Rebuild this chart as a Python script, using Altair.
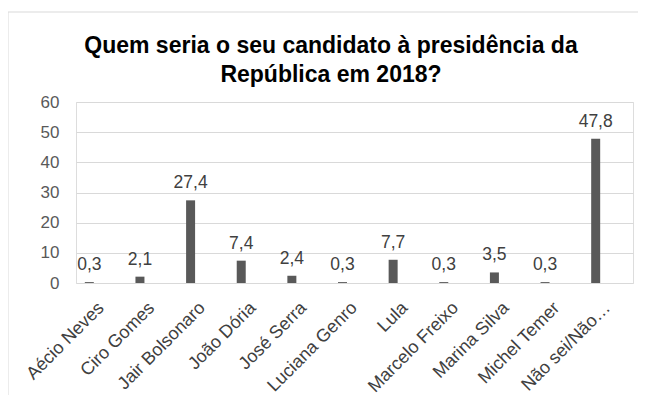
import altair as alt
import pandas as pd

categories = ["Aécio Neves", "Ciro Gomes", "Jair Bolsonaro", "João Dória", "José Serra",
              "Luciana Genro", "Lula", "Marcelo Freixo", "Marina Silva", "Michel Temer",
              "Não sei/Não…"]
values = [0.3, 2.1, 27.4, 7.4, 2.4, 0.3, 7.7, 0.3, 3.5, 0.3, 47.8]
y_ticks = [0, 10, 20, 30, 40, 50, 60]
title_lines = ["Quem seria o seu candidato à presidência da", "República em 2018?"]

df = pd.DataFrame({
    "cat": categories,
    "val": values,
    "lbl": [f"{v:.1f}".replace(".", ",") for v in values],
})

FONT = "Liberation Sans"

x_enc = alt.X("cat:N", sort=categories, title=None,
              scale=alt.Scale(paddingInner=0, paddingOuter=0),
              axis=alt.Axis(labelAngle=-45, labelAlign="right", labelBaseline="middle",
                            labelPadding=22, ticks=False, domain=False,
                            labelFont=FONT, labelFontSize=18, labelColor="#404040",
                            labelLimit=200))
y_enc = alt.Y("val:Q", title=None,
              scale=alt.Scale(domain=[0, 60], nice=False),
              axis=alt.Axis(values=y_ticks, ticks=False, domain=False,
                            labelFont=FONT, labelFontSize=17, labelColor="#595959",
                            labelPadding=17, gridColor="#d9d9d9", gridWidth=1))

base = alt.Chart(df)

bars = base.mark_bar(color="#595959", width=9, xOffset=-12).encode(x=x_enc, y=y_enc)
texts = base.mark_text(font=FONT, fontSize=17.5, color="#404040", baseline="alphabetic",
                       dy=-12, xOffset=-12).encode(x=x_enc, y=y_enc, text="lbl:N")

border = alt.Chart(pd.DataFrame({"k": [0]})).mark_rect(
    fill=None, stroke="#d9d9d9", strokeWidth=1
).encode(x=alt.value(-68), x2=alt.value(700), y=alt.value(-90), y2=alt.value(400))

title = alt.Chart(pd.DataFrame({"t": ["\n".join(title_lines)]})).mark_text(
    font=FONT, fontSize=23, fontWeight="bold", color="#000000", align="center",
    baseline="alphabetic", lineBreak="\n", lineHeight=29.5
).encode(x=alt.value(255), y=alt.value(-49.5), text="t:N")

chart = alt.layer(border, bars, texts, title).properties(
    width=557, height=181,
    autosize=alt.AutoSizeParams(type="none"),
    padding={"left": 68, "top": 94, "right": 5, "bottom": 112},
).configure_view(stroke=None).configure(background="white")

chart.save("out.html", embed_options={"renderer": "svg", "actions": False})
